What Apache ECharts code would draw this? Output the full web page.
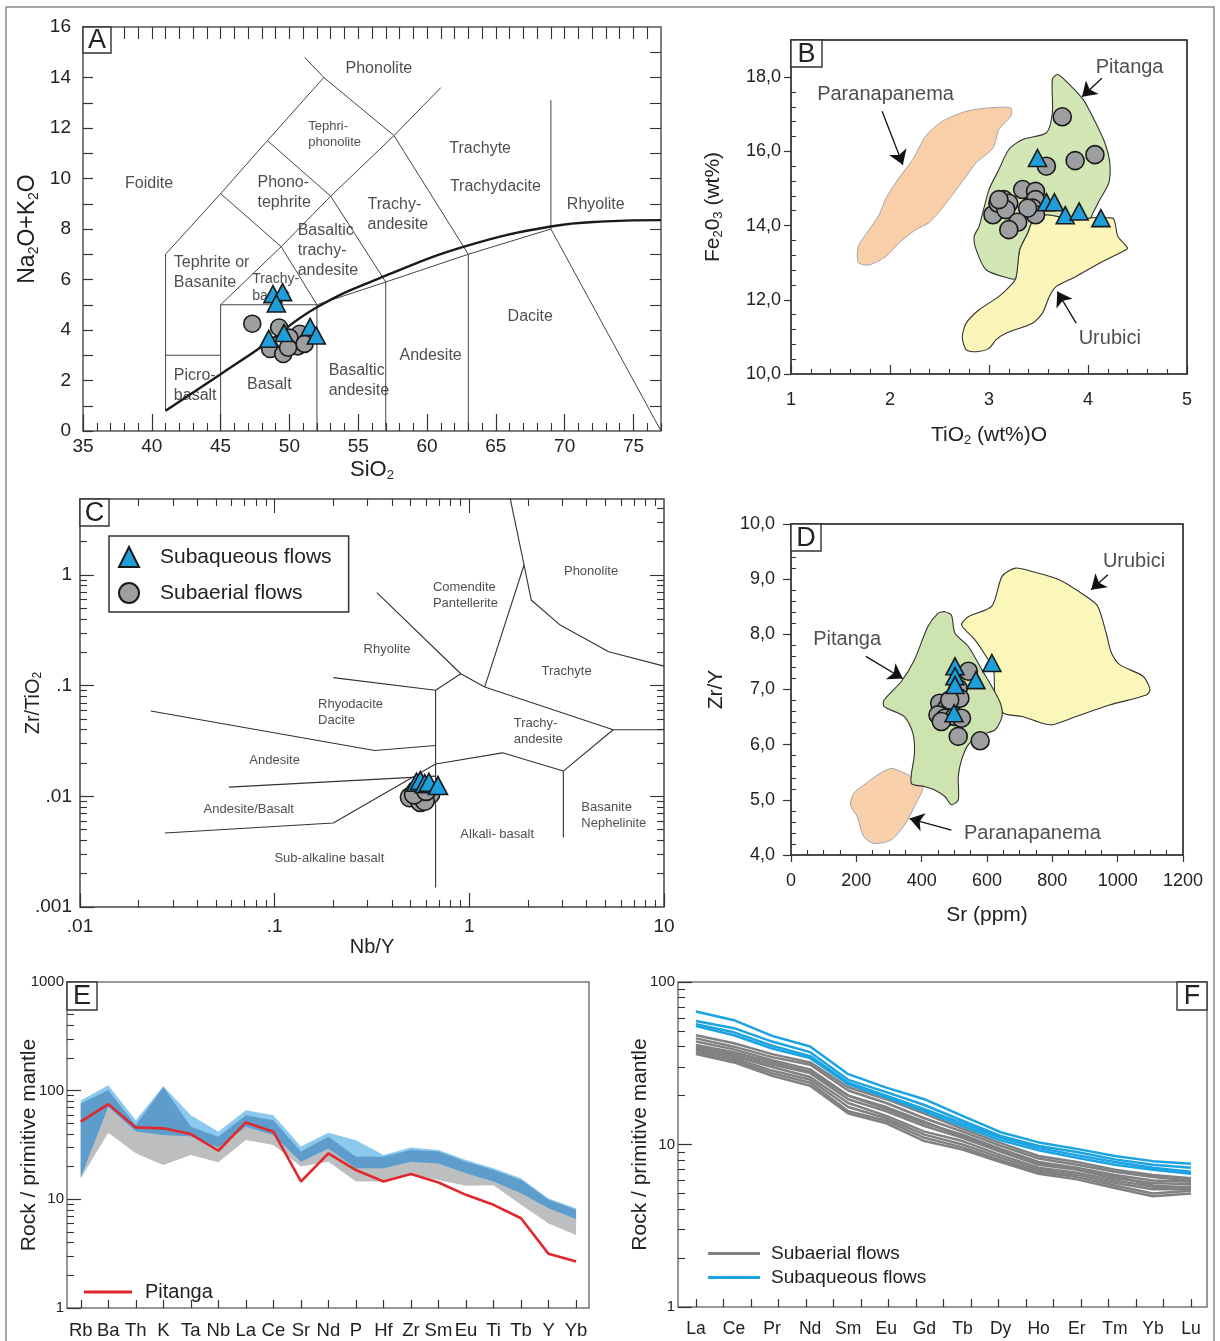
<!DOCTYPE html>
<html>
<head>
<meta charset="utf-8">
<script src="https://cdn.jsdelivr.net/npm/echarts@6.0.0/dist/echarts.min.js"></script>
<style>
html,body{margin:0;padding:0;background:#fff;}
#chart{width:1220px;height:1341px;}
</style>
</head>
<body>
<div id="chart"></div>
<script>
// ================= DATA =================
// ---- Panel A : TAS diagram ----
const tasSubaerial = [[47.3,4.25],[49.25,4.1],[48.6,3.25],[49.55,3.05],[50.25,3.45],[50.75,3.85],[50.6,3.35],[50.0,3.7],[51.1,3.45],[49.9,3.3]];
const tasSubaqueous = [[48.8,5.42],[49.5,5.5],[49.05,5.05],[48.5,3.65],[49.6,3.88],[51.5,4.12],[51.95,3.78]];
const tasFieldLines = [
  [[41,0.8],[41,7],[45,9.4],[48.4,11.5],[52.5,14],[57.6,11.7],[63,7]],
  [[51.1,14.8],[52.5,14]],
  [[41,3],[45,3]],
  [[45,0],[45,5],[52,5],[52,0]],
  [[45,9.4],[49.4,7.3],[52,5]],
  [[45,5],[49.4,7.3],[53,9.3],[57.6,11.7],[61,13.6]],
  [[48.4,11.5],[53,9.3],[57,5.9]],
  [[52,5],[57,5.9],[63,7],[69,8]],
  [[57,0],[57,5.9]],
  [[63,0],[63,7]],
  [[69,13.1],[69,8],[77,0]]
];
const tasAlkalineCurve = [[41,0.8],[45,2.25],[48,3.35],[52,4.9],[57,6.15],[63,7.35],[69,8.1],[73,8.3],[77,8.35]];
const tasFieldLabels = [
  ['Phonolite',56.5,14.34],['Tephri-\nphonolite',51.37,11.76],['Trachyte',63.86,11.18],['Trachydacite',64.97,9.68],
  ['Foidite',39.8,9.81],['Phono-\ntephrite',47.68,9.44],['Trachy-\nandesite',55.68,8.59],['Rhyolite',72.26,8.95],
  ['Basaltic\ntrachy-\nandesite',50.6,7.15],['Tephrite or\nBasanite',41.6,6.28],['Trachy-\nbasalt',47.3,5.67],
  ['Dacite',67.5,4.55],['Andesite',60.26,3.0],['Basaltic\nandesite',52.85,2.0],['Basalt',48.54,1.85],['Picro-\nbasalt',41.6,1.81]
];
const tasXTicks = [35,40,45,50,55,60,65,70,75];
const tasYTicks = [0,2,4,6,8,10,12,14,16];

// ---- Panel B : Fe2O3 vs TiO2 ----
const bSubaerial = [[3.74,16.93],[3.58,15.6],[3.87,15.75],[4.07,15.91],[3.34,14.97],[3.47,14.92],[3.47,14.7],[3.44,14.47],[3.47,14.29],[3.39,14.47],[3.04,14.29],[3.09,14.6],[3.15,14.7],[3.2,14.6],[3.17,14.43],[3.29,14.09],[3.2,13.89],[3.1,14.7]];
const bSubaqueous = [[3.49,15.82],[3.58,14.63],[3.66,14.63],[3.77,14.28],[3.91,14.38],[4.13,14.2]];
const bParanapanema = [[1.68,13.0],[1.68,13.44],[1.79,13.89],[1.89,14.29],[1.96,14.74],[2.09,15.28],[2.23,15.78],[2.36,16.41],[2.53,16.81],[2.77,17.08],[3.0,17.17],[3.22,17.17],[3.22,16.95],[3.1,16.59],[3.04,16.09],[2.87,15.69],[2.77,15.33],[2.63,14.83],[2.5,14.38],[2.39,14.07],[2.26,13.89],[2.09,13.53],[1.96,13.17],[1.79,12.94]];
const bPitanga = [[3.69,18.07],[3.76,17.94],[3.95,17.4],[4.07,16.81],[4.17,16.23],[4.22,15.69],[4.21,15.15],[4.12,14.7],[4.05,14.34],[4.02,14.2],[3.78,14.2],[3.58,14.29],[3.44,14.11],[3.39,13.8],[3.31,13.35],[3.27,12.58],[3.2,12.58],[2.97,12.81],[2.87,13.35],[2.85,13.71],[2.9,13.98],[3.0,14.97],[3.1,15.51],[3.2,16.05],[3.34,16.32],[3.58,16.5],[3.64,17.04],[3.64,17.94]];
const bUrubici = [[3.44,14.11],[3.58,14.29],[3.78,14.2],[4.25,14.2],[4.28,13.98],[4.3,13.71],[4.4,13.39],[4.35,13.3],[4.12,12.99],[3.88,12.63],[3.68,12.36],[3.61,12.09],[3.54,11.64],[3.44,11.37],[3.17,11.1],[3.07,10.92],[3.0,10.69],[2.87,10.6],[2.77,10.65],[2.73,11.0],[2.77,11.37],[2.9,11.73],[3.1,12.09],[3.24,12.45],[3.27,12.58],[3.31,13.35],[3.39,13.8]];
const bFieldLabels = [['Paranapanema',1.955,17.53],['Pitanga',4.42,18.25],['Urubici',4.22,10.96]];
const bArrows = [[[1.92,17.08],[2.13,15.64]],[[4.14,17.97],[3.94,17.47]],[[3.88,11.37],[3.69,12.22]]];
const bXTicks = [1,2,3,4,5];
const bYTicks = [10,12,14,16,18];

// ---- Panel C : Zr/TiO2 vs Nb/Y ----
const cSubaerial = [[0.495,0.0098],[0.56,0.0089],[0.535,0.0113],[0.63,0.0105],[0.59,0.0091],[0.52,0.0104],[0.6,0.0112]];
const cSubaqueous = [[0.535,0.0134],[0.56,0.0139],[0.59,0.013],[0.62,0.0134],[0.69,0.0125]];
const cFieldLines = [
  [[1.62,4.95],[1.91,1.23],[2.08,0.593],[2.93,0.352],[5.2,0.202],[10,0.15]],
  [[1.91,1.23],[1.2,0.0973]],
  [[0.335,0.691],[0.904,0.128],[1.2,0.0973],[5.48,0.0399],[10,0.0399]],
  [[0.904,0.128],[0.671,0.0907],[0.671,0.0015]],
  [[0.2,0.118],[0.671,0.0907]],
  [[0.0231,0.0589],[0.326,0.0259],[0.671,0.0288]],
  [[0.671,0.0196],[1.48,0.0247],[3.04,0.0169],[5.48,0.0399]],
  [[3.04,0.0169],[3.04,0.00425]],
  [[0.0582,0.0121],[0.671,0.0152]],
  [[0.0273,0.00466],[0.2,0.00573],[0.671,0.0196]]
];
const cFieldLabels = [
  ['Comendite\nPantellerite',0.65,0.654],['Phonolite',4.22,1.07],['Rhyolite',0.378,0.212],['Trachyte',3.16,0.135],
  ['Rhyodacite\nDacite',0.167,0.0569],['Trachy-\nandesite',1.69,0.0383],['Andesite',0.1,0.021],['Andesite/Basalt',0.0736,0.00767],
  ['Basanite\nNephelinite',3.76,0.00668],['Alkali- basalt',1.39,0.00456],['Sub-alkaline basalt',0.191,0.00276]
];
const cXTicks = [0.01,0.1,1,10];
const cXTickLabels = ['.01','.1','1','10'];
const cYTicks = [0.001,0.01,0.1,1];
const cYTickLabels = ['.001','.01','.1','1'];

// ---- Panel D : Zr/Y vs Sr ----
const dSubaerial = [[543,7.33],[512,7.02],[517,6.84],[455,6.75],[476,6.66],[450,6.54],[471,6.48],[502,6.51],[522,6.48],[512,6.15],[579,6.07],[486,6.81],[460,6.42]];
const dSubaqueous = [[502,7.42],[502,7.24],[502,7.08],[499,6.57],[566,7.17],[615,7.48]];
const dUrubici = [[522,8.17],[543,8.32],[615,8.51],[646,9.05],[687,9.2],[738,9.14],[821,8.99],[903,8.69],[939,8.51],[965,8.02],[981,7.66],[1006,7.45],[1078,7.24],[1099,7.0],[1088,6.9],[975,6.72],[872,6.51],[800,6.36],[769,6.39],[708,6.51],[651,6.57],[625,6.87],[620,7.36],[594,7.63],[563,7.9]];
const dPitanga = [[471,8.41],[491,8.35],[502,8.02],[543,7.78],[584,7.36],[615,7.05],[641,6.75],[646,6.51],[625,6.27],[584,6.18],[543,6.0],[522,5.72],[512,5.42],[512,5.0],[491,4.91],[471,5.06],[440,5.18],[409,5.24],[368,5.3],[378,5.84],[373,6.21],[347,6.51],[285,6.69],[285,6.81],[337,7.14],[378,7.54],[419,8.14],[450,8.38]];
const dParanapanema = [[306,5.57],[337,5.51],[368,5.42],[404,5.24],[378,4.88],[347,4.54],[306,4.27],[254,4.21],[223,4.33],[203,4.69],[182,4.91],[192,5.12],[223,5.27],[265,5.45]];
const dFieldLabels = [['Urubici',1050,9.32],['Pitanga',172,7.9],['Paranapanema',739,4.39]];
const dArrows = [[[970,9.08],[919,8.81]],[[229,7.6],[342,7.2]],[[491,4.45],[363,4.66]]];
const dXTicks = [0,200,400,600,800,1000,1200];
const dYTicks = [4,5,6,7,8,9,10];

// ---- Panel E : multi-element spider diagram ----
const spiderCats = ['Rb','Ba','Th','K','Ta','Nb','La','Ce','Sr','Nd','P','Hf','Zr','Sm','Eu','Ti','Tb','Y','Yb'];
const pitanga = [51.8,75.2,45.9,45,39.9,28,51,41.9,14.6,26.5,18.6,14.6,17.1,14.3,11,8.9,6.7,3.15,2.68];
const subaerialLow = [15.6,41,26.5,20.7,25.6,21.9,35.1,31.6,20,22.2,14.6,14.6,17,15.1,13.3,13.5,8.9,6.0,4.7];
const subaerialHigh = [76,101,48,108,46.5,37.7,59.4,53.5,27.5,37.7,24.7,24.7,28.4,27.5,22.2,18.6,15.1,9.9,8.0];
const subaqueousLow = [16,71,42,39,38,30,46.5,39,22.2,29.4,19.3,19.3,22.2,21.4,17.4,14.6,11.4,8.3,6.6];
const subaqueousHigh = [81,112,53.5,110,59.4,41.9,66,59.4,30.6,41,35,25.6,30,28.4,23,19.3,15.6,10.2,8.3];
const eYTicks = [1,10,100,1000];

// ---- Panel F : REE diagram ----
const reeCats = ['La','Ce','Pr','Nd','Sm','Eu','Gd','Tb','Dy','Ho','Er','Tm','Yb','Lu'];
const reeSubaerial = [
  [47,42,36,32,22.5,19,15.5,12.5,10.2,8.5,7.8,7.0,6.5,6.2],
  [45,40,34.5,31,21.5,18,14.5,12,9.8,8.2,7.5,6.8,6.3,6.0],
  [43,38.5,33,29,20,16.5,13.5,11.5,9.4,7.8,7.2,6.5,6.0,5.9],
  [41,37,32,28,20,17,13.8,11.2,9.2,7.6,7.1,6.4,5.6,5.4],
  [40,36,31,27.5,19,16,13,11,9.0,7.5,7.0,6.2,5.8,5.7],
  [39,35,30,26,18,15,12,10.5,8.6,7.2,6.7,6.0,5.5,5.5],
  [38,34,28.5,25,17,14.5,11.5,10,8.3,7.0,6.5,5.8,5.3,5.3],
  [37,33,27.5,24,16,14,11,9.6,8.0,6.8,6.3,5.6,5.0,5.2],
  [36,32,26.5,23,15.5,13.5,10.5,9.3,7.8,6.6,6.1,5.4,4.8,5.0]
];
const reeSubaqueous = [
  [65.8,58.2,46.6,40.1,27.1,22.4,19,15,11.9,10.3,9.4,8.5,7.9,7.6],
  [57.5,52,43,37,25,21,17.5,14,11.3,9.8,9.0,8.1,7.5,7.2],
  [55,49,40.5,35,24,20,16.5,13.5,11,9.5,8.6,7.8,7.2,6.8],
  [53.5,47,39,34,23.5,19.5,16,13,10.6,9.2,8.3,7.5,7.0,6.6]
];
const fYTicks = [1,10,100];

// ================= STYLE / HELPERS =================
const FONT = 'Liberation Sans';
const INK = '#222';
const TICK = '#333';
const BLUE_PT = '#1e9fdc', GREY_PT = '#9d9ea0';

function range(a, b, s) { const r = []; const n = Math.round((b - a) / s); for (let i = 0; i <= n; i++) r.push(+(a + i * s).toFixed(6)); return r; }
function logMinor(e0, e1) { const r = []; for (let e = e0; e < e1; e++) for (let k = 2; k <= 9; k++) r.push(+(k * Math.pow(10, e)).toPrecision(6)); return r; }
const notInt = v => Math.abs(v - Math.round(v)) > 1e-6;
const comma1 = v => Number(v).toFixed(1).replace('.', ',');
function lookup(v, vals, labs) { for (let i = 0; i < vals.length; i++) { if (Math.abs(Math.log10(vals[i]) - Math.log10(v)) < 1e-4) return labs[i]; } return ''; }
function richName(fs) {
  return { fontFamily: FONT, fontSize: fs, color: INK,
    rich: { n: { fontFamily: FONT, fontSize: fs, color: INK },
            s: { fontFamily: FONT, fontSize: Math.round(fs * 0.6), color: INK, padding: [Math.round(fs * 0.5), 0, 0, 0] } } };
}
function plainName(fs) { return { fontFamily: FONT, fontSize: fs, color: INK }; }

const xAxes = [], yAxes = [];
function mainAxis(g, type, min, max, pos, o) {
  const a = { gridIndex: g, type, min, max, position: pos,
    axisLine: { show: false, onZero: false }, splitLine: { show: false }, minorTick: { show: false }, minorSplitLine: { show: false }, splitArea: { show: false },
    axisTick: { show: true, inside: o.inside, length: o.tickLen, customValues: o.ticks, lineStyle: { color: TICK, width: 1.2 } },
    axisLabel: { show: true, customValues: o.labels, formatter: o.fmt || (v => String(v)), fontSize: o.fs, margin: o.margin, color: INK, fontFamily: FONT },
    nameMoveOverlap: false, axisPointer: { show: false }, silent: true, z: 10 };
  if (o.name) { a.name = o.name; a.nameLocation = 'middle'; a.nameGap = o.nameGap; a.nameTextStyle = o.nameStyle; }
  return a;
}
function tickOnly(list, g, type, min, max, pos, values, len, inside) {
  list.push({ gridIndex: g, type, min, max, position: pos,
    axisLine: { show: false, onZero: false }, splitLine: { show: false }, minorTick: { show: false },
    axisTick: { show: true, inside, length: len, customValues: values, lineStyle: { color: TICK, width: 1.1 } },
    axisLabel: { show: false }, axisPointer: { show: false }, silent: true, z: 10 });
}

// ---- main axes (index = grid index) ----
xAxes.push(mainAxis(0, 'value', 35, 77, 'bottom', { ticks: tasXTicks, tickLen: 17, inside: true, labels: tasXTicks, fs: 19, margin: 6, name: '{n|SiO}{s|2}', nameGap: 27, nameStyle: richName(22) }));
yAxes.push(mainAxis(0, 'value', 0, 16, 'left', { ticks: range(0, 16, 1), tickLen: 10, inside: true, labels: tasYTicks, fs: 19, margin: 12, name: '{n|Na}{s|2}{n|O+K}{s|2}{n|O}', nameGap: 42, nameStyle: richName(23) }));

xAxes.push(mainAxis(1, 'value', 1, 5, 'bottom', { ticks: bXTicks, tickLen: 9, inside: true, labels: bXTicks, fs: 18, margin: 17, name: '{n|TiO}{s|2}{n| (wt%)O}', nameGap: 49, nameStyle: richName(21) }));
yAxes.push(mainAxis(1, 'value', 10, 19, 'left', { ticks: bYTicks, tickLen: 7, inside: false, labels: bYTicks, fmt: comma1, fs: 18, margin: 10, name: '{n|Fe}{s|2}{n|0}{s|3}{n| (wt%)}', nameGap: 66, nameStyle: richName(21) }));

xAxes.push(mainAxis(2, 'log', 0.01, 10, 'bottom', { ticks: cXTicks, tickLen: 14, inside: true, labels: cXTicks, fmt: v => lookup(v, cXTicks, cXTickLabels), fs: 19, margin: 10, name: 'Nb/Y', nameGap: 30, nameStyle: plainName(20) }));
yAxes.push(mainAxis(2, 'log', 0.001, 4.85, 'left', { ticks: cYTicks, tickLen: 14, inside: true, labels: cYTicks, fmt: v => lookup(v, cYTicks, cYTickLabels), fs: 19, margin: 8, name: '{n|Zr/TiO}{s|2}', nameGap: 36, nameStyle: richName(20) }));

xAxes.push(mainAxis(3, 'value', 0, 1200, 'bottom', { ticks: dXTicks, tickLen: 7, inside: false, labels: dXTicks, fs: 18, margin: 17, name: 'Sr (ppm)', nameGap: 50, nameStyle: plainName(21) }));
yAxes.push(mainAxis(3, 'value', 4, 10, 'left', { ticks: dYTicks, tickLen: 8, inside: false, labels: dYTicks, fmt: comma1, fs: 18, margin: 16, name: 'Zr/Y', nameGap: 64, nameStyle: plainName(21) }));

const eIdx = spiderCats.map((c, i) => i);
xAxes.push(mainAxis(4, 'value', -0.5, 18.47, 'bottom', { ticks: eIdx, tickLen: 8, inside: true, labels: eIdx, fmt: v => spiderCats[Math.round(v)], fs: 18.5, margin: 13 }));
yAxes.push(mainAxis(4, 'log', 1, 1000, 'left', { ticks: eYTicks, tickLen: 14, inside: true, labels: eYTicks, fs: 15, margin: 3, name: 'Rock / primitive mantle', nameGap: 27, nameStyle: plainName(21) }));

const fIdx = reeCats.map((c, i) => i);
const fTickPos = range(0, 18, 1).map(i => +(i * (reeCats.length - 1) / 18).toFixed(6));
xAxes.push(mainAxis(5, 'value', -0.47, 13.42, 'bottom', { ticks: fTickPos, tickLen: 8, inside: true, labels: fIdx, fmt: v => reeCats[Math.round(v)], fs: 17.5, margin: 13 }));
yAxes.push(mainAxis(5, 'log', 1, 100, 'left', { ticks: fYTicks, tickLen: 14, inside: true, labels: fYTicks, fs: 15, margin: 3, name: 'Rock / primitive mantle', nameGap: 27, nameStyle: plainName(21) }));

// ---- extra tick axes ----
tickOnly(xAxes, 0, 'value', 35, 77, 'bottom', range(35, 77, 1).filter(v => v % 5 !== 0), 8, true);
tickOnly(xAxes, 0, 'value', 35, 77, 'top', range(36, 76, 1), 12, true);
tickOnly(yAxes, 0, 'value', 0, 16, 'right', range(1, 15, 1), 11, true);

tickOnly(xAxes, 1, 'value', 1, 5, 'bottom', range(1, 5, 0.2).filter(notInt), 5, true);
tickOnly(yAxes, 1, 'value', 10, 19, 'left', range(10, 19, 0.4).filter(v => Math.abs(v / 2 - Math.round(v / 2)) > 1e-6), 5, true);

const cxMinor = logMinor(-2, 1), cyMinor = logMinor(-3, 1).filter(v => v <= 4.85);
tickOnly(xAxes, 2, 'log', 0.01, 10, 'bottom', cxMinor, 7, true);
tickOnly(xAxes, 2, 'log', 0.01, 10, 'top', [0.1, 1], 14, true);
tickOnly(xAxes, 2, 'log', 0.01, 10, 'top', cxMinor, 7, true);
tickOnly(yAxes, 2, 'log', 0.001, 4.85, 'left', cyMinor, 7, true);
tickOnly(yAxes, 2, 'log', 0.001, 4.85, 'right', [0.01, 0.1, 1], 14, true);
tickOnly(yAxes, 2, 'log', 0.001, 4.85, 'right', cyMinor, 7, true);

tickOnly(xAxes, 3, 'value', 0, 1200, 'bottom', range(0, 1200, 50).filter(v => v % 200 !== 0), 5, true);
tickOnly(yAxes, 3, 'value', 4, 10, 'left', range(4, 10, 0.2).filter(notInt), 5, true);

tickOnly(yAxes, 4, 'log', 1, 1000, 'left', logMinor(0, 3), 7, true);
tickOnly(yAxes, 5, 'log', 1, 100, 'left', logMinor(0, 2), 7, true);

// ---- series helpers ----
const series = [];
function fieldLine(g, pts, w, color, smooth) {
  return { type: 'line', xAxisIndex: g, yAxisIndex: g, data: pts, symbol: 'none', smooth: smooth || false,
    lineStyle: { color: color || '#333', width: w || 1 }, silent: true, z: 2, clip: true, emphasis: { disabled: true } };
}
function pointSeries(g, name, data, symbol, size, color) {
  return { type: 'scatter', name, xAxisIndex: g, yAxisIndex: g, data, symbol, symbolSize: size,
    itemStyle: { color, borderColor: '#1a1a1a', borderWidth: 1.6, opacity: 1 }, silent: true, z: symbol === 'triangle' ? 6 : 5, emphasis: { disabled: true } };
}
function polySeries(g, pts, fill, stroke, lw, smooth) {
  return { type: 'custom', xAxisIndex: g, yAxisIndex: g, coordinateSystem: 'cartesian2d', data: pts, clip: true, silent: true, z: 1,
    renderItem: (params, api) => {
      if (params.dataIndex !== 0) return null;
      return { type: 'polygon', shape: { points: pts.map(p => api.coord(p)), smooth: smooth || 0 },
        style: { fill, stroke: stroke || 'none', lineWidth: lw || 0 } };
    } };
}
function labelSeries(g, labels, fs, leftAligned, sizeMap, arrows) {
  const s = { type: 'scatter', xAxisIndex: g, yAxisIndex: g, symbolSize: 0.1, itemStyle: { color: 'rgba(0,0,0,0)' }, silent: true, z: 4,
    emphasis: { disabled: true },
    data: labels.map(l => {
      const f = (sizeMap && sizeMap[l[0]]) || fs;
      return { value: [l[1], l[2]], label: { formatter: l[0], align: leftAligned.has(l[0]) ? 'left' : 'center', fontSize: f, lineHeight: Math.round(f * 1.22) } };
    }),
    label: { show: true, position: 'inside', fontFamily: FONT, color: INK, fontSize: fs } };
  if (arrows) {
    s.markLine = { silent: true, animation: false, symbol: ['none', 'arrow'], symbolSize: 14, label: { show: false },
      lineStyle: { color: '#111', width: 1.3, type: 'solid', opacity: 1 }, itemStyle: { color: '#111' }, emphasis: { disabled: true },
      data: arrows.map(a => [{ coord: a[0] }, { coord: a[1] }]) };
  }
  return s;
}

// ---- Panel A ----
tasFieldLines.forEach(l => series.push(fieldLine(0, l, 1, '#444')));
series.push(fieldLine(0, tasAlkalineCurve, 2.4, '#1a1a1a', 0.45));
series.push(labelSeries(0, tasFieldLabels, 16,
  new Set(['Tephri-\nphonolite','Phono-\ntephrite','Trachy-\nandesite','Basaltic\ntrachy-\nandesite','Tephrite or\nBasanite','Trachy-\nbasalt','Basaltic\nandesite','Picro-\nbasalt']),
  { 'Tephri-\nphonolite': 13, 'Trachy-\nbasalt': 14 }));
series.push(pointSeries(0, 'Subaerial flows', tasSubaerial, 'circle', 17, GREY_PT));
series.push(pointSeries(0, 'Subaqueous flows', tasSubaqueous, 'triangle', [18, 17], BLUE_PT));

// ---- Panel B ----
series.push(polySeries(1, bParanapanema, '#f8cfa9', '#a5a5a5', 1, 0.25));
series.push(polySeries(1, bUrubici, '#fbf5b9', '#333', 1.1, 0.25));
series.push(polySeries(1, bPitanga, '#d3e6b5', '#333', 1.1, 0.25));
series.push(labelSeries(1, bFieldLabels, 20, new Set(), null, bArrows));
series.push(pointSeries(1, 'Subaerial flows', bSubaerial, 'circle', 18, GREY_PT));
series.push(pointSeries(1, 'Subaqueous flows', bSubaqueous, 'triangle', [18, 17], BLUE_PT));

// ---- Panel C ----
cFieldLines.forEach(l => series.push(fieldLine(2, l, 1.1, '#333')));
series.push(labelSeries(2, cFieldLabels, 13, new Set(['Comendite\nPantellerite','Rhyodacite\nDacite','Trachy-\nandesite','Basanite\nNephelinite'])));
series.push(pointSeries(2, 'Subaerial flows', cSubaerial, 'circle', 19, GREY_PT));
series.push(pointSeries(2, 'Subaqueous flows', cSubaqueous, 'triangle', [19, 18], BLUE_PT));

// ---- Panel D ----
series.push(polySeries(3, dParanapanema, '#f8d0ab', '#a5a5a5', 1, 0.25));
series.push(polySeries(3, dUrubici, '#fbf6b9', '#333', 1.1, 0.25));
series.push(polySeries(3, dPitanga, '#cde3b0', '#333', 1.1, 0.25));
series.push(labelSeries(3, dFieldLabels, 20, new Set(), null, dArrows));
series.push(pointSeries(3, 'Subaerial flows', dSubaerial, 'circle', 18, GREY_PT));
series.push(pointSeries(3, 'Subaqueous flows', dSubaqueous, 'triangle', [18, 17], BLUE_PT));

// ---- Panel E ----
function bandPts(upper, lower) { return upper.map((v, i) => [i, v]).concat(lower.map((v, i) => [i, v]).reverse()); }
series.push(polySeries(4, bandPts(subaerialHigh, subaerialLow), '#bdbec0'));
series.push(polySeries(4, bandPts(subaqueousHigh, subaqueousLow), '#8cc9ee'));
series.push(polySeries(4, bandPts(subaerialHigh, subaqueousLow), '#5e9dcb'));
series.push({ type: 'line', name: 'Pitanga', xAxisIndex: 4, yAxisIndex: 4, data: pitanga.map((v, i) => [i, v]), symbol: 'none',
  lineStyle: { color: '#e0282d', width: 2.6 }, itemStyle: { color: '#e0282d' }, silent: true, z: 5, emphasis: { disabled: true } });

// ---- Panel F ----
reeSubaerial.forEach(r => series.push({ type: 'line', name: 'REE subaerial', xAxisIndex: 5, yAxisIndex: 5, data: r.map((v, i) => [i, v]), symbol: 'none',
  lineStyle: { color: '#808183', width: 2.5 }, itemStyle: { color: '#808183' }, silent: true, z: 3, emphasis: { disabled: true } }));
reeSubaqueous.forEach(r => series.push({ type: 'line', name: 'REE subaqueous', xAxisIndex: 5, yAxisIndex: 5, data: r.map((v, i) => [i, v]), symbol: 'none',
  lineStyle: { color: '#1ba3e2', width: 2.5 }, itemStyle: { color: '#1ba3e2' }, silent: true, z: 4, emphasis: { disabled: true } }));

// ---- grids ----
const grids = [
  { left: 83, top: 27, width: 578, height: 404, borderColor: '#555' },
  { left: 791, top: 40, width: 396, height: 334, borderColor: '#111' },
  { left: 80, top: 499, width: 584, height: 408, borderColor: '#444' },
  { left: 791, top: 524, width: 392, height: 331, borderColor: '#111' },
  { left: 67, top: 982, width: 522, height: 326, borderColor: '#777' },
  { left: 678, top: 982, width: 529, height: 325, borderColor: '#777' }
];
const panelLetters = [['A',0,28,26],['B',1,31,27],['C',2,29,27],['D',3,30,27],['E',4,30,28],['F',5,30,28]];
const graphic = [{ type: 'rect', silent: true, z: 0, shape: { x: 6, y: 7, width: 1208, height: 1345 }, style: { fill: 'none', stroke: '#8a8a8a', lineWidth: 1.5 } }];
panelLetters.forEach(p => {
  const g = grids[p[1]];
  const x = p[0] === 'F' ? g.left + g.width - p[2] : g.left;
  const y = g.top;
  graphic.push({ type: 'rect', silent: true, z: 100, shape: { x, y, width: p[2], height: p[3] }, style: { fill: '#fff', stroke: '#333', lineWidth: 1.4 } });
  graphic.push({ type: 'text', silent: true, z: 101, x: x + p[2] / 2, y: y + p[3] / 2 + 1, style: { text: p[0], fontFamily: FONT, fontSize: 27, fill: INK, align: 'center', verticalAlign: 'middle' } });
});

const option = {
  animation: false,
  backgroundColor: '#fff',
  textStyle: { fontFamily: FONT },
  grid: grids.map(g => ({ left: g.left, top: g.top, width: g.width, height: g.height, show: true, borderColor: g.borderColor, borderWidth: 1.5,
    backgroundColor: 'transparent', containLabel: false, outerBoundsMode: 'none' })),
  xAxis: xAxes,
  yAxis: yAxes,
  legend: [
    { data: ['Subaqueous flows', 'Subaerial flows'], orient: 'vertical', left: 109, top: 536, padding: [10, 17, 8, 9], itemWidth: 20, itemHeight: 20, itemGap: 14,
      borderColor: '#333', borderWidth: 1.5, backgroundColor: '#fff', selectedMode: false, z: 20,
      textStyle: { fontFamily: FONT, fontSize: 21, color: INK, padding: [0, 0, 0, 16] } },
    { data: ['Pitanga'], left: 79, top: 1277, icon: 'rect', itemWidth: 48, itemHeight: 3, selectedMode: false,
      textStyle: { fontFamily: FONT, fontSize: 20, color: INK, padding: [0, 0, 0, 8] } },
    { data: ['REE subaerial', 'REE subaqueous'], orient: 'vertical', left: 703, top: 1239, icon: 'rect', itemWidth: 52, itemHeight: 3, itemGap: 5, selectedMode: false,
      formatter: n => (n === 'REE subaerial' ? 'Subaerial flows' : 'Subaqueous flows'),
      textStyle: { fontFamily: FONT, fontSize: 19, color: INK, padding: [0, 0, 0, 6] } }
  ],
  series,
  graphic
};
const chart = echarts.init(document.getElementById('chart'), null, { renderer: 'canvas' });
chart.setOption(option);
</script>
</body>
</html>
